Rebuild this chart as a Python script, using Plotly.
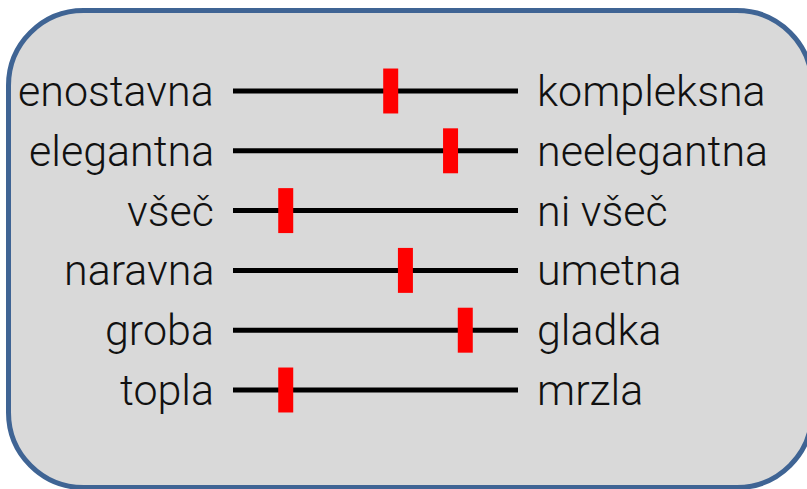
import plotly.graph_objects as go

# semantic differential rows
left_labels = ["enostavna", "elegantna", "všeč", "naravna", "groba", "topla"]
right_labels = ["kompleksna", "neelegantna", "ni všeč", "umetna", "gladka", "mrzla"]
values = [4.32, 5.58, 2.11, 4.63, 5.89, 2.11]
scale_min, scale_max = 1, 7

W, H = 807, 489
rows = list(range(len(left_labels)))

fig = go.Figure()

# scale lines
lx, ly = [], []
for i in rows:
    lx += [scale_min, scale_max, None]
    ly += [i, i, None]
fig.add_trace(go.Scatter(x=lx, y=ly, mode="lines",
                         line=dict(color="black", width=5), hoverinfo="skip"))

# red markers (short vertical bars)
mx, my = [], []
for i, v in enumerate(values):
    mx += [v, v, None]
    my += [i - 0.376, i + 0.376, None]
fig.add_trace(go.Scatter(x=mx, y=my, mode="lines",
                         line=dict(color="#ff0000", width=15), hoverinfo="skip"))

font = dict(family="Roboto", size=43, color="#111111", weight=300)
for i in rows:
    fig.add_annotation(x=scale_min, y=i, text=left_labels[i], showarrow=False,
                       xanchor="right", xshift=-17, font=font)
    fig.add_annotation(x=scale_max, y=i, text=right_labels[i], showarrow=False,
                       xanchor="left", xshift=17, font=font)

# rounded background box (paper coords from pixel sizes)
def px(x):
    return x / W

def py(y):
    return 1 - y / H

x0, y0, x1, y1, r = 8.5, 10.5, 812, 487.5, 75
k = r * 0.5523
path = (
    f"M {px(x0 + r)},{py(y0)} L {px(x1 - r)},{py(y0)} "
    f"C {px(x1 - r + k)},{py(y0)} {px(x1)},{py(y0 + r - k)} {px(x1)},{py(y0 + r)} "
    f"L {px(x1)},{py(y1 - r)} "
    f"C {px(x1)},{py(y1 - r + k)} {px(x1 - r + k)},{py(y1)} {px(x1 - r)},{py(y1)} "
    f"L {px(x0 + r)},{py(y1)} "
    f"C {px(x0 + r - k)},{py(y1)} {px(x0)},{py(y1 - r + k)} {px(x0)},{py(y1 - r)} "
    f"L {px(x0)},{py(y0 + r)} "
    f"C {px(x0)},{py(y0 + r - k)} {px(x0 + r - k)},{py(y0)} {px(x0 + r)},{py(y0)} Z"
)
fig.add_shape(type="path", xref="paper", yref="paper", path=path,
              fillcolor="#d9d9d9", line=dict(color="#3f6494", width=5), layer="below")

# axis ranges chosen so the scale spans pixels 233..518, rows at 91..390
ppu = (518 - 233) / (scale_max - scale_min)
row_top, row_step = 91, (390 - 91) / (len(rows) - 1)
fig.update_xaxes(range=[scale_min - 233 / ppu, scale_min + (W - 233) / ppu], visible=False)
fig.update_yaxes(range=[(H - row_top) / row_step, -row_top / row_step], visible=False)

fig.update_layout(width=W, height=H, margin=dict(l=0, r=0, t=0, b=0),
                  paper_bgcolor="white", plot_bgcolor="rgba(0,0,0,0)",
                  showlegend=False)

fig.write_html("out.html", config={"displayModeBar": False},
               post_script="document.body.style.margin='0';")
